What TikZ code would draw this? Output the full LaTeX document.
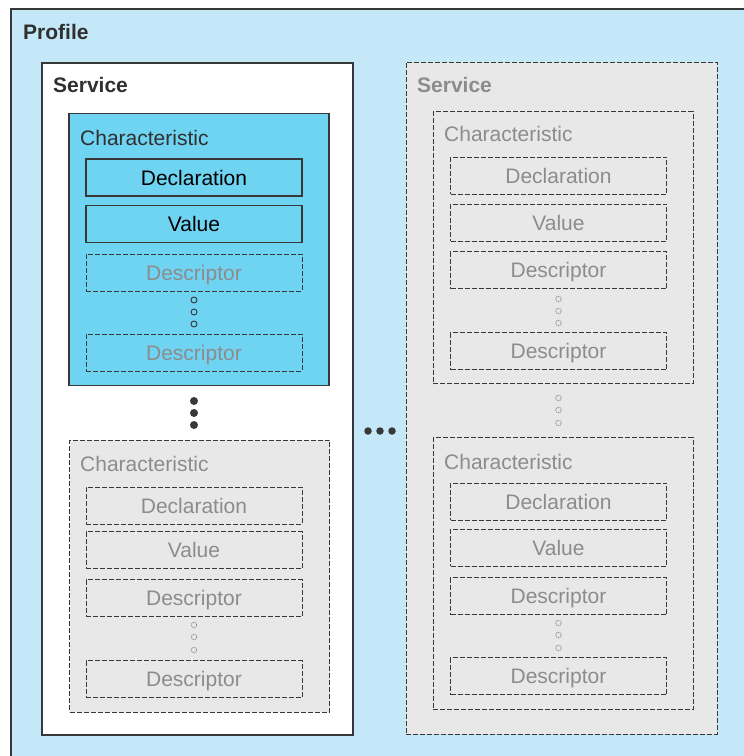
\documentclass[tikz,border=0pt]{standalone}
\usepackage{fontspec}
\setmainfont{Liberation Sans}
\definecolor{profilebg}{HTML}{C4E8F7}
\definecolor{charblue}{HTML}{6FD3F2}
\definecolor{optgray}{HTML}{E8E8E8}
\definecolor{edge}{HTML}{383838}
\definecolor{titletext}{HTML}{303030}
\definecolor{fadetext}{HTML}{8C8C8C}

\begin{document}
\begin{tikzpicture}[x=1pt, y=-1pt,
  font=\fontsize{21}{25}\selectfont,
  frame/.style={draw=edge, line width=1.1pt, inner sep=0pt},
  optframe/.style={frame, line width=1pt, dash pattern=on 5pt off 2pt, fill=optgray},
  item/.style={frame, minimum width=216pt, minimum height=37pt, text height=15pt, text depth=0pt},
  optitem/.style={item, line width=1pt, dash pattern=on 5pt off 2pt, text=fadetext},
  charbox/.style={minimum width=260pt, minimum height=272pt},
  svcbox/.style={minimum width=311pt, minimum height=672pt},
  title/.style={anchor=base west, inner sep=0pt, text=titletext},
  bigdot/.style={circle, fill=edge, inner sep=0pt, minimum size=8pt},
  smalldot/.style={circle, draw=edge, line width=0.9pt, inner sep=0pt, minimum size=6pt},
  faintdot/.style={circle, draw=fadetext, line width=0.8pt, dash pattern=on 1.2pt off 0.8pt, inner sep=0pt, minimum size=5.5pt}]
\useasboundingbox (0,0) rectangle (744,756);
\clip (0,0) rectangle (744,756);

% profile
\node (profile)[frame, fill=profilebg, minimum width=760pt, minimum height=770pt] at (391,394) {};
\node (profile-t)[title, font=\fontsize{21}{25}\selectfont\bfseries] at (23,39) {Profile};

% first service
\node (svc1)[frame, fill=white, svcbox] at (197.5,399) {};
\node (svc1-t)[title, font=\fontsize{21}{25}\selectfont\bfseries] at (53,92) {Service};

\node (ch1)[frame, fill=charblue, charbox] at (199,249.5) {};
\node (ch1-t)[title] at (80,145) {Characteristic};
\node (ch1-dec)[item] at (194,177.5) {Declaration};
\node (ch1-val)[item] at (194,224) {Value};
\node (ch1-ds1)[optitem] at (194,272.5) {Descriptor};
\node (ch1-o1)[smalldot] at (194,300) {};
\node (ch1-o2)[smalldot] at (194,312) {};
\node (ch1-o3)[smalldot] at (194,324) {};
\node (ch1-ds2)[optitem] at (194,352.5) {Descriptor};

\node (svc1-d1)[bigdot] at (194,401) {};
\node (svc1-d2)[bigdot] at (194,413) {};
\node (svc1-d3)[bigdot] at (194,425) {};

\node (ch2)[optframe, charbox] at (199.5,576) {};
\node (ch2-t)[title, text=fadetext] at (80,471) {Characteristic};
\node (ch2-dec)[optitem] at (194,505.5) {Declaration};
\node (ch2-val)[optitem] at (194,550) {Value};
\node (ch2-ds1)[optitem] at (194,598) {Descriptor};
\node (ch2-o1)[faintdot] at (194,625) {};
\node (ch2-o2)[faintdot] at (194,637) {};
\node (ch2-o3)[faintdot] at (194,650) {};
\node (ch2-ds2)[optitem] at (194,679) {Descriptor};

% between services
\node (mid-d1)[bigdot, minimum size=7.5pt] at (368,431) {};
\node (mid-d2)[bigdot, minimum size=7.5pt] at (380,431) {};
\node (mid-d3)[bigdot, minimum size=7.5pt] at (392,431) {};

% second service
\node (svc2)[optframe, svcbox] at (561.5,398) {};
\node (svc2-t)[title, text=fadetext, font=\fontsize{21}{25}\selectfont\bfseries] at (417,92) {Service};

\node (chA)[optframe, charbox] at (563,247.5) {};
\node (chA-t)[title, text=fadetext] at (444,141.5) {Characteristic};
\node (chA-dec)[optitem] at (558.5,175.5) {Declaration};
\node (chA-val)[optitem] at (558.5,222.5) {Value};
\node (chA-ds1)[optitem] at (558.5,270) {Descriptor};
\node (chA-o1)[faintdot] at (558.5,299) {};
\node (chA-o2)[faintdot] at (558.5,311) {};
\node (chA-o3)[faintdot] at (558.5,323) {};
\node (chA-ds2)[optitem] at (558.5,351) {Descriptor};

\node (svc2-o1)[faintdot] at (558.5,398) {};
\node (svc2-o2)[faintdot] at (558.5,410) {};
\node (svc2-o3)[faintdot] at (558.5,423) {};

\node (chB)[optframe, charbox] at (563,573.5) {};
\node (chB-t)[title, text=fadetext] at (444,469) {Characteristic};
\node (chB-dec)[optitem] at (558.5,501.5) {Declaration};
\node (chB-val)[optitem] at (558.5,547.5) {Value};
\node (chB-ds1)[optitem] at (558.5,596) {Descriptor};
\node (chB-o1)[faintdot] at (558.5,623) {};
\node (chB-o2)[faintdot] at (558.5,635) {};
\node (chB-o3)[faintdot] at (558.5,648) {};
\node (chB-ds2)[optitem] at (558.5,676) {Descriptor};
\end{tikzpicture}
\end{document}
